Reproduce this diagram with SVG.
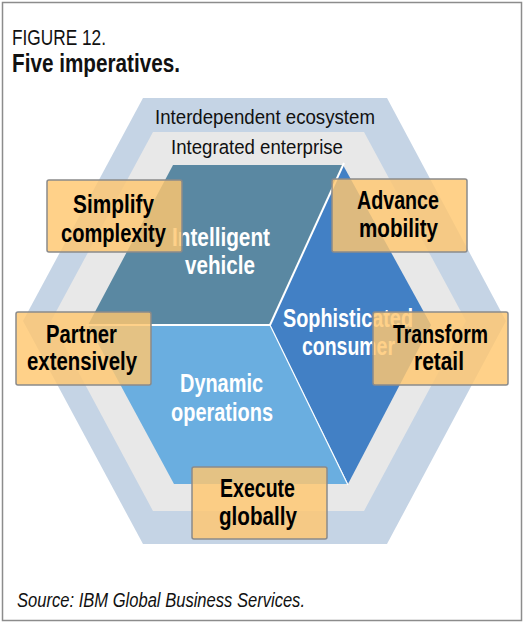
<svg xmlns="http://www.w3.org/2000/svg" width="524" height="622" viewBox="0 0 524 622">
<style>
text{font-family:"Liberation Sans",Arial,sans-serif}
.hd{font-size:22px;fill:#111}
.hb{font-size:26px;font-weight:bold;fill:#111}
.ring{font-size:20.5px;fill:#111}
.reg{font-size:25px;font-weight:bold;fill:#fff}
.box{fill:#ffc76f;fill-opacity:0.82;stroke:#8a8a8a;stroke-width:1.5}
.bt{font-size:25px;font-weight:bold;fill:#000}
.src{font-size:20px;font-style:italic;fill:#111}
.div{stroke:#fff;fill:none}
</style>
<rect x="0" y="0" width="524" height="622" fill="#fff"/>
<rect x="2.5" y="2.5" width="519" height="618" fill="none" stroke="#8c8c8c" stroke-width="1.5"/>
<g id="title">
<text class="hd" x="12" y="45" textLength="94" lengthAdjust="spacingAndGlyphs">FIGURE 12.</text>
<text class="hb" x="12" y="72" textLength="168" lengthAdjust="spacingAndGlyphs">Five imperatives.</text>
</g>
<g id="ecosystem">
<polygon points="143,98 387,98 506,321 387,544 143,544 23,321" fill="#c5d4e5"/>
<text class="ring" x="155" y="124" textLength="220" lengthAdjust="spacingAndGlyphs">Interdependent ecosystem</text>
</g>
<g id="enterprise">
<polygon points="153,132 364,132 466,321 364,511 153,511 51,321" fill="#e8e8e8"/>
<text class="ring" x="171" y="154" textLength="172" lengthAdjust="spacingAndGlyphs">Integrated enterprise</text>
</g>
<g id="intelligent-vehicle">
<polygon points="173,165 343,165 270,325 88,325" fill="#5a88a2"/>
<text class="reg" x="172" y="246" textLength="98" lengthAdjust="spacingAndGlyphs">Intelligent</text>
<text class="reg" x="185" y="274" textLength="70" lengthAdjust="spacingAndGlyphs">vehicle</text>
</g>
<g id="sophisticated-consumer">
<polygon points="343,165 431,325 348,484 270,325" fill="#4280c5"/>
<text class="reg" x="283" y="327" textLength="130" lengthAdjust="spacingAndGlyphs">Sophisticated</text>
<text class="reg" x="302" y="355" textLength="93" lengthAdjust="spacingAndGlyphs">consumer</text>
</g>
<g id="dynamic-operations">
<polygon points="88,325 270,325 348,484 174,484" fill="#6aaee0"/>
<text class="reg" x="180" y="392" textLength="83" lengthAdjust="spacingAndGlyphs">Dynamic</text>
<text class="reg" x="171" y="421" textLength="102" lengthAdjust="spacingAndGlyphs">operations</text>
</g>
<g id="dividers">
<line class="div" x1="344" y1="163" x2="270" y2="325" stroke-width="2"/>
<line class="div" x1="86" y1="325" x2="270" y2="325" stroke-width="2"/>
<line class="div" x1="270" y1="325" x2="348" y2="485" stroke-width="1.2"/>
</g>
<g id="simplify-complexity">
<rect class="box" x="47" y="180" width="135" height="72" rx="2"/>
<text class="bt" x="73" y="213" textLength="81" lengthAdjust="spacingAndGlyphs">Simplify</text>
<text class="bt" x="61" y="242" textLength="105" lengthAdjust="spacingAndGlyphs">complexity</text>
</g>
<g id="advance-mobility">
<rect class="box" x="332" y="179" width="135" height="73" rx="2"/>
<text class="bt" x="357" y="209" textLength="82" lengthAdjust="spacingAndGlyphs">Advance</text>
<text class="bt" x="359" y="237" textLength="79" lengthAdjust="spacingAndGlyphs">mobility</text>
</g>
<g id="partner-extensively">
<rect class="box" x="16" y="312" width="135" height="73" rx="2"/>
<text class="bt" x="46" y="343" textLength="71" lengthAdjust="spacingAndGlyphs">Partner</text>
<text class="bt" x="27" y="370" textLength="110" lengthAdjust="spacingAndGlyphs">extensively</text>
</g>
<g id="transform-retail">
<rect class="box" x="373" y="312" width="135" height="73" rx="2"/>
<text class="bt" x="393" y="343" textLength="95" lengthAdjust="spacingAndGlyphs">Transform</text>
<text class="bt" x="414" y="370" textLength="50" lengthAdjust="spacingAndGlyphs">retail</text>
</g>
<g id="execute-globally">
<rect class="box" x="192" y="467" width="135" height="72" rx="2"/>
<text class="bt" x="220" y="497" textLength="75" lengthAdjust="spacingAndGlyphs">Execute</text>
<text class="bt" x="219" y="525" textLength="78" lengthAdjust="spacingAndGlyphs">globally</text>
</g>
<g id="source">
<text class="src" x="17" y="607" textLength="288" lengthAdjust="spacingAndGlyphs">Source: IBM Global Business Services.</text>
</g>
</svg>
